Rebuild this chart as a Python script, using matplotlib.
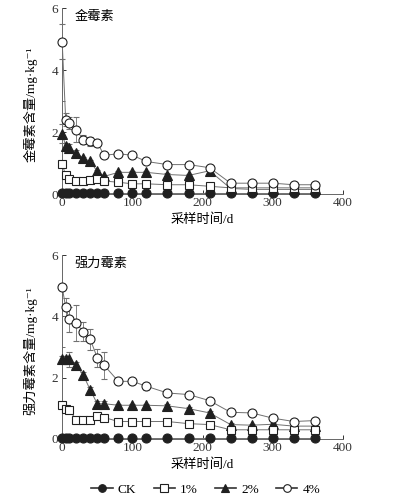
import matplotlib
matplotlib.use('Agg')
import matplotlib.pyplot as plt
from matplotlib.ticker import MultipleLocator

plt.rcParams['font.family'] = ['Liberation Serif', 'Noto Sans CJK SC', 'DejaVu Sans']
plt.rcParams['axes.unicode_minus'] = False

# 采样时间 (d)
days = [0, 5, 10, 20, 30, 40, 50, 60, 80, 100, 120, 150, 180, 210, 240, 270, 300, 330, 360]

# 金霉素 (mg/kg)
ctc_ck = [0.03] * 19
ctc_1 = [0.97, 0.6, 0.5, 0.42, 0.42, 0.45, 0.5, 0.42, 0.38, 0.33, 0.33, 0.3, 0.3, 0.25, 0.2, 0.2, 0.2, 0.2, 0.2]
ctc_2 = [1.95, 1.55, 1.5, 1.32, 1.16, 1.05, 0.73, 0.57, 0.7, 0.7, 0.7, 0.63, 0.6, 0.75, 0.18, 0.15, 0.15, 0.15, 0.15]
ctc_4 = [4.92, 2.4, 2.3, 2.08, 1.75, 1.7, 1.65, 1.25, 1.3, 1.25, 1.05, 0.95, 0.95, 0.85, 0.35, 0.35, 0.35, 0.3, 0.3]
ctc_4_err = [0.55, 0.2, 0.2, 0.4, 0.15, 0.15, 0.1, 0.05, 0.05, 0.05, 0.05, 0.05, 0.05, 0.05, 0.03, 0.03, 0.03, 0.03, 0.03]
ctc_2_err = [0.3, 0.1, 0.1, 0.1, 0.05, 0.05, 0.05, 0.05, 0.05, 0.05, 0.05, 0.05, 0.05, 0.05, 0.03, 0.03, 0.03, 0.03, 0.03]

# 强力霉素 (mg/kg)
dox_ck = [0.03] * 19
dox_1 = [1.12, 0.98, 0.95, 0.63, 0.63, 0.63, 0.75, 0.7, 0.57, 0.57, 0.57, 0.57, 0.5, 0.47, 0.3, 0.3, 0.3, 0.3, 0.3]
dox_2 = [2.6, 2.6, 2.6, 2.42, 2.09, 1.6, 1.15, 1.15, 1.1, 1.1, 1.1, 1.08, 0.99, 0.85, 0.47, 0.45, 0.48, 0.42, 0.42]
dox_4 = [4.95, 4.3, 3.9, 3.78, 3.5, 3.25, 2.65, 2.4, 1.88, 1.88, 1.72, 1.5, 1.45, 1.25, 0.87, 0.85, 0.68, 0.57, 0.6]
dox_4_err = [0.1, 0.3, 0.4, 0.6, 0.3, 0.35, 0.3, 0.45, 0.1, 0.05, 0.12, 0.05, 0.08, 0.05, 0.05, 0.05, 0.05, 0.05, 0.05]
dox_2_err = [0.1, 0.1, 0.25, 0.1, 0.1, 0.1, 0.1, 0.1, 0.05, 0.05, 0.05, 0.05, 0.05, 0.05, 0.05, 0.05, 0.05, 0.05, 0.05]

line_c = '#707070'
edge_c = '#202020'


def draw(ax, ck, s1, s2, s4, e2, e4, title, ylabel):
    kw = dict(color=line_c, lw=0.7, ms=6.5, mec=edge_c, mew=0.8, clip_on=False)
    ax.plot(days, ck, marker='o', mfc=edge_c, zorder=3, **kw)
    ax.errorbar(days, s2, yerr=e2, marker='^', mfc=edge_c, ecolor=line_c,
                elinewidth=0.6, capsize=2, capthick=0.6, zorder=4, **kw)
    ax.plot(days, s1, marker='s', mfc='white', ms=6, zorder=5,
            **{k: v for k, v in kw.items() if k != 'ms'})
    ax.errorbar(days, s4, yerr=e4, marker='o', mfc='white', ecolor=line_c,
                elinewidth=0.6, capsize=2, capthick=0.6, zorder=6, **kw)

    ax.set_xlim(0, 400)
    ax.set_ylim(0, 6)
    ax.set_xticks([0, 100, 200, 300, 400])
    ax.set_yticks([0, 2, 4, 6])
    ax.yaxis.set_minor_locator(MultipleLocator(1))
    ax.tick_params(direction='in', length=3, width=0.7, labelsize=9.5, pad=2, colors='#333')
    ax.tick_params(which='minor', direction='in', length=2, width=0.6, colors='#555')
    ax.tick_params(axis='y', pad=3)
    for s in ['top', 'right']:
        ax.spines[s].set_visible(False)
    for s in ['left', 'bottom']:
        ax.spines[s].set_color('#666')
        ax.spines[s].set_linewidth(0.7)

    ax.text(0.045, 0.985, title, transform=ax.transAxes, ha='left', va='top', fontsize=9.5)
    ax.set_xlabel('采样时间/d', fontsize=9.5)
    ax.xaxis.set_label_coords(0.5, -0.105)
    ax.set_ylabel(ylabel, fontsize=9.5)
    ax.yaxis.set_label_coords(-0.088, 0.48)


fig = plt.figure(figsize=(3.96, 5.04), dpi=100)
ax1 = fig.add_axes([0.157, 0.615, 0.709, 0.369])
ax2 = fig.add_axes([0.157, 0.129, 0.709, 0.365])

draw(ax1, ctc_ck, ctc_1, ctc_2, ctc_4, ctc_2_err, ctc_4_err, '金霉素', '金霉素含量/mg·kg⁻¹')
draw(ax2, dox_ck, dox_1, dox_2, dox_4, dox_2_err, dox_4_err, '强力霉素', '强力霉素含量/mg·kg⁻¹')

# legend
labels = ['CK', '1%', '2%', '4%']
markers = ['o', 's', '^', 'o']
fills = [edge_c, 'white', edge_c, 'white']
handles = [plt.Line2D([], [], color='#333', lw=1.2, marker=m, mfc=f, mec=edge_c, ms=5.5, mew=0.8)
           for m, f in zip(markers, fills)]
fig.legend(handles, labels, loc='center', bbox_to_anchor=(0.52, 0.028), ncol=4, frameon=False,
           fontsize=9.5, handlelength=1.6, columnspacing=1.3, handletextpad=0.4)

fig.savefig('out.png', dpi=100)
